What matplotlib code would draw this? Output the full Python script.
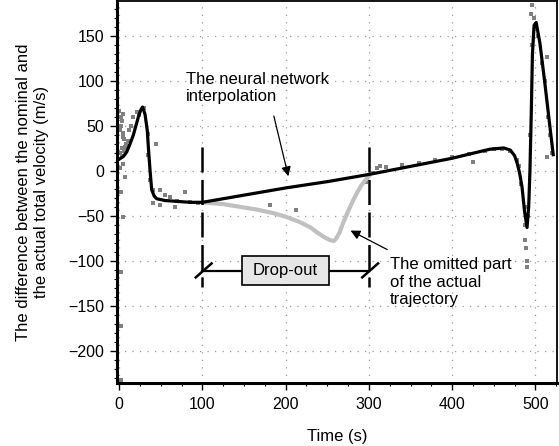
import matplotlib
matplotlib.use("Agg")
import matplotlib.pyplot as plt
from matplotlib.ticker import MultipleLocator
from matplotlib.patches import Rectangle

plt.rcParams['font.family'] = ['Liberation Sans', 'DejaVu Sans']

# Neural network interpolation (black line)
nn_t = [0, 5, 9, 13, 17, 20, 23, 26, 28, 31, 33.7, 35.5, 37, 39, 42, 45, 55, 70, 85, 100,
        150, 200, 250, 300, 350, 400, 420, 445, 462, 470, 475, 478, 481, 484, 487, 490,
        492, 493.5, 495, 496.5, 498.5, 501, 505.5, 511.5, 517.5, 521.5]
nn_v = [13, 16, 21, 30, 40, 50, 60, 68, 71, 63, 45, 20, 1, -21, -28, -31, -33, -34, -35, -35,
        -27, -19, -12, -4, 5, 14, 18.5, 24, 25.5, 23, 17, 9, -2, -18, -45, -63,
        -40, 0, 60, 130, 162, 165, 142, 97, 49, 18]

# Omitted part of the actual trajectory (light gray)
om_t = [100, 125, 145, 165, 185, 200, 217, 230, 237, 245, 253, 258, 261, 265, 269, 275, 281, 286, 291, 296, 301]
om_v = [-35, -37, -40, -43, -47, -51, -57, -63, -68, -73, -77, -78, -75, -68, -58, -45, -33, -24, -16, -10, -5]

# Actual trajectory samples (gray points)
act_t = [0, 3, 1, 5, 7, 3, 5, 1, 7, 5, 16, 21, 35, 35, 37, 41, 49, 41, 49, 67, 79, 55, 61,
         2, 4, 6, 8, 3, 1, 6, 9, 10, 2, 4, 12, 14, 2, 2, 2, 2, 24, 30, 44,
         70, 85, 95, 181, 212,
         296, 298, 300, 305, 310, 313, 320, 340, 360, 380, 400, 420, 425, 440, 450, 460, 470,
         478, 480, 483, 487, 488, 488, 489, 490, 490, 491, 494, 496, 495, 496, 498, 503, 508,
         512, 514, 515, 518, 514, 520]
act_v = [67, 56, 45, 38, 27, 16, 8, 3, -7, -51, 60, 66, 41, 18, -10, -21, -21, -36, -38, -40, -24, -27, -29,
         50, 42, 35, 30, 25, 20, 22, 28, 33, 60, 63, 45, 50, -24, -112, -173, -233, 62, 70, 30,
         -33, -35, -36, -38, -44,
         -12, -9, -5, -2, 3, 5, 4, 6, 9, 12, 15, 19, 10, 22, 24, 24, 22,
         12, 5, -15, -40, -60, -77, -86, -100, -107, -50, 40, 140, 175, 184, 170, 150, 120,
         100, 127, 60, 40, 15, 20]

x_ticks = [0, 100, 200, 300, 400, 500]
y_ticks = [-200, -150, -100, -50, 0, 50, 100, 150]

fig = plt.figure(figsize=(5.59, 4.46), dpi=100)
ax = fig.add_axes([0.2088, 0.1413, 0.7876, 0.8565])

ax.set_xlim(-3, 526)
ax.set_ylim(-236, 189)

ax.set_xticks(x_ticks)
ax.set_yticks(y_ticks)
ax.xaxis.set_minor_locator(MultipleLocator(25))
ax.yaxis.set_minor_locator(MultipleLocator(10))
ax.tick_params(which='major', direction='out', length=5, width=1, labelsize=11.5, pad=4)
ax.tick_params(axis='x', which='major', pad=5)
ax.tick_params(which='minor', direction='out', length=2.5, width=0.8)
ax.grid(True, which='major', color='#999999', linestyle=(0, (1, 5)), linewidth=0.9)
ax.set_axisbelow(True)

for side in ['left', 'bottom']:
    ax.spines[side].set_linewidth(2.2)
for side in ['top', 'right']:
    ax.spines[side].set_linewidth(1.3)

ax.scatter(act_t, act_v, marker='s', s=9, color='#808080', linewidths=0, zorder=2)
ax.plot(om_t, om_v, color='#c0c0c0', lw=3.0, zorder=2, solid_capstyle='round')
ax.plot(nn_t, nn_v, color='black', lw=2.3, zorder=3)

# drop-out markers
for xv in [100, 300]:
    ax.plot([xv, xv], [26, -129], color='black', lw=1.8, dashes=(10, 3), zorder=4)
    ax.plot([xv - 8, xv + 11], [-118.5, -103], color='black', lw=1.8, zorder=4)
ax.plot([100, 300], [-111, -111], color='black', lw=1.6, zorder=4)
ax.add_patch(Rectangle((147, -127), 105.4, 32.2, facecolor='#e6e6e6', edgecolor='black',
                       linewidth=1.2, zorder=5))
ax.text(200, -111, 'Drop-out', ha='center', va='center', fontsize=12, zorder=6)

ax.annotate('', xy=(204, -9), xytext=(185, 64),
            arrowprops=dict(arrowstyle='-|>', color='black', lw=0.9, mutation_scale=14))
ax.text(80, 92, 'The neural network\ninterpolation', ha='left', va='center', fontsize=12,
        linespacing=1.2)

ax.annotate('', xy=(275, -65), xytext=(325, -89),
            arrowprops=dict(arrowstyle='-|>', color='black', lw=0.9, mutation_scale=14))
ax.text(325, -124, 'The omitted part\nof the actual\ntrajectory', ha='left', va='center',
        fontsize=12, linespacing=1.2)

ax.set_xlabel('Time (s)', fontsize=12, labelpad=12)
ax.set_ylabel('The difference between the nominal and\nthe actual total velocity (m/s)', fontsize=12,
              labelpad=14, linespacing=1.2)

fig.savefig('out.png', dpi=100)
